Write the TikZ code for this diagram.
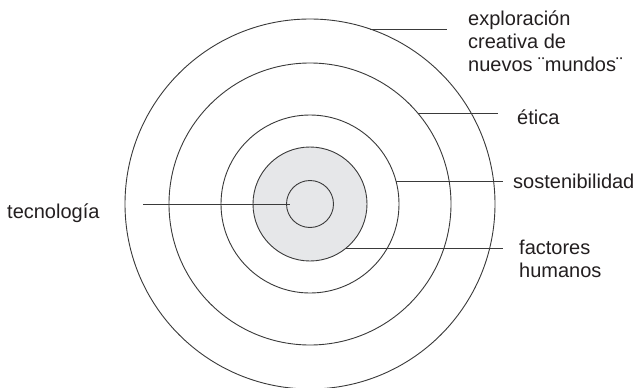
\documentclass[tikz,border=0pt]{standalone}
\usepackage{fontspec}
\setmainfont{Liberation Sans}
\definecolor{linec}{HTML}{3A3A3A}
\definecolor{txtc}{HTML}{231F20}
\definecolor{grayc}{HTML}{E6E7E9}
\begin{document}
\begin{tikzpicture}[x=1pt,y=-1pt,
  ring/.style={circle,draw=linec,line width=0.9pt,inner sep=0pt,outer sep=0pt,minimum size=#1},
  leader/.style={draw=linec,line width=0.9pt},
  lbl/.style={font=\fontsize{20}{23}\selectfont,text=txtc,inner sep=0pt,align=left,anchor=base west}]
\fill[white] (0,0) rectangle (633,388);
\useasboundingbox (0,0) rectangle (633,388);
\node[ring=370pt] (o1) at (310,204) {};
\node[ring=282pt] (o2) at (310,204) {};
\node[ring=178pt] (o3) at (310,204) {};
\node[ring=114pt,fill=grayc] (o4) at (310,204) {};
\node[ring=47pt] (o5) at (310,204) {};
\coordinate (e1) at (447,29);
\coordinate (e2) at (498,112);
\coordinate (e3) at (503,181);
\coordinate (e4) at (503,249);
\coordinate (e5) at (143,203);
\draw[leader] (o1.71.1) -- (o1.71.1 -| e1);
\draw[leader] (o2.40.7) -- (o2.40.7 -| e2);
\draw[leader] (o3.15) -- (o3.15 -| e3);
\draw[leader] (o4.-52) -- (o4.-52 -| e4);
\draw[leader] ([xshift=3pt]o5.west) -- (o5.west -| e5);
\node[lbl] (t1) at (468,71) {exploración\\creativa de\\nuevos ¨mundos¨};
\node[lbl] (t2) at (517,124) {ética};
\node[lbl] (t3) at (513,188) {sostenibilidad};
\node[lbl] (t4) at (519,277) {factores\\humanos};
\node[lbl] (t5) at (7,218) {tecnología};
\end{tikzpicture}
\end{document}
